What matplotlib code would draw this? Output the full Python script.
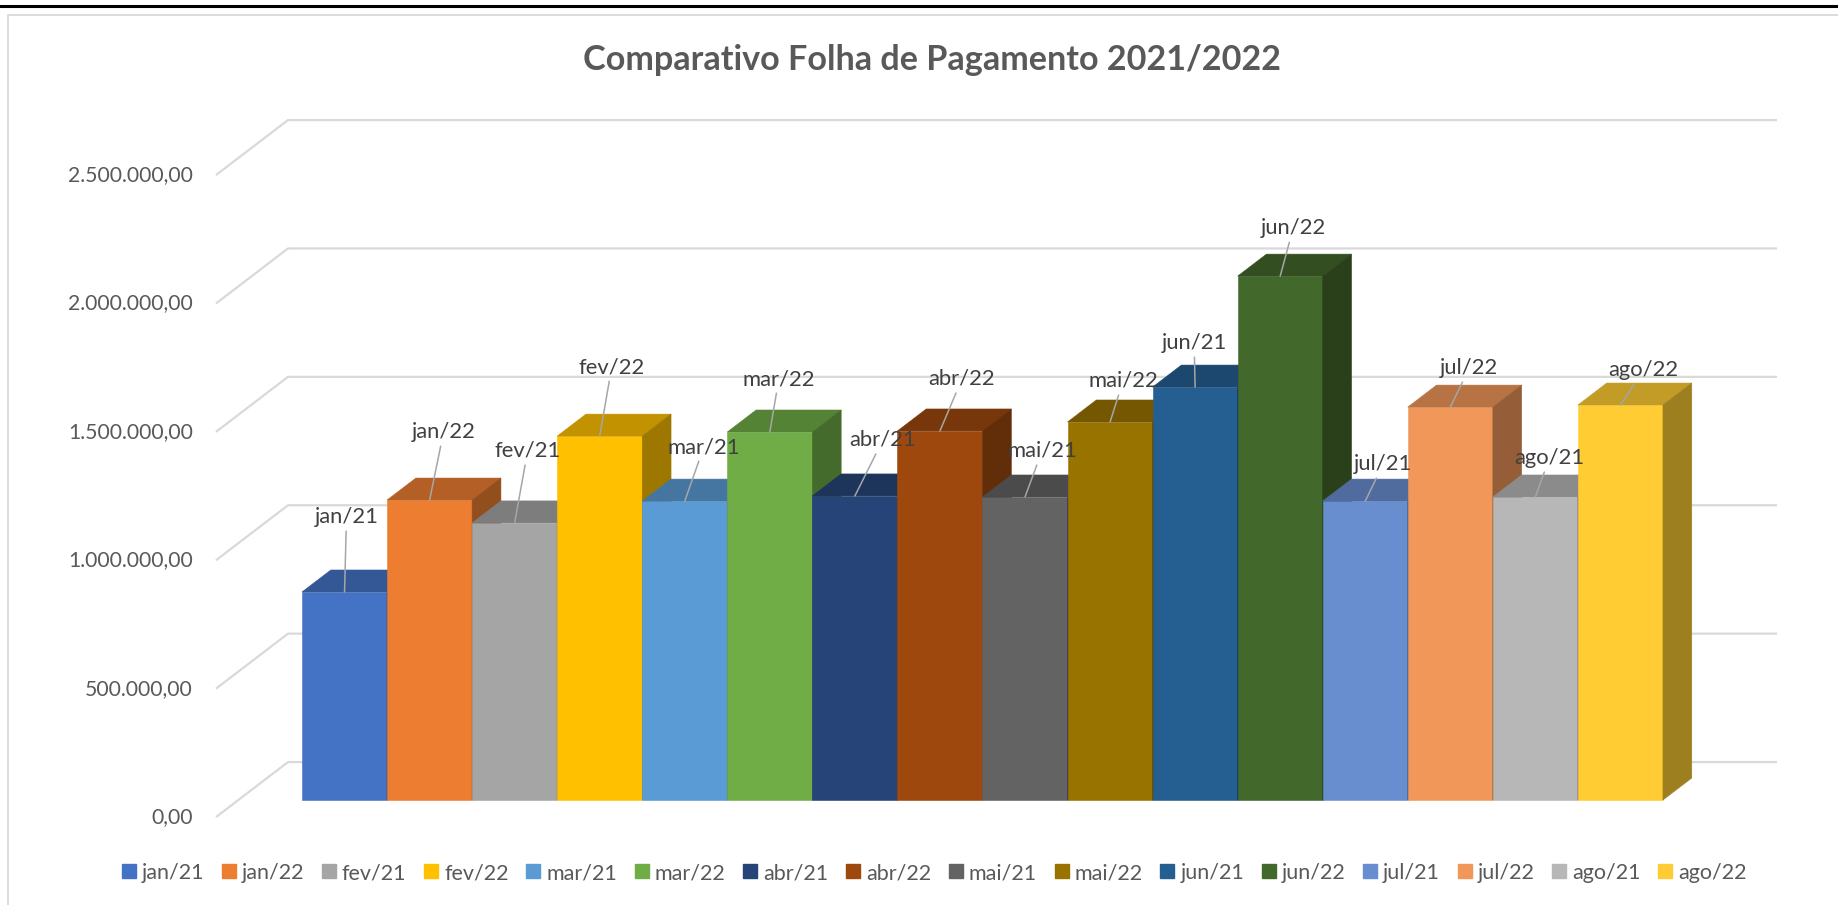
import numpy as np
import matplotlib.pyplot as plt
import matplotlib.colors as mcolors
from matplotlib.patches import Polygon
from matplotlib.lines import Line2D

plt.rcParams['font.family'] = ['Lato', 'DejaVu Sans']

# data
labels = ['jan/21', 'jan/22', 'fev/21', 'fev/22', 'mar/21', 'mar/22', 'abr/21', 'abr/22',
          'mai/21', 'mai/22', 'jun/21', 'jun/22', 'jul/21', 'jul/22', 'ago/21', 'ago/22']
values = [810000, 1168000, 1079000, 1417000, 1164000, 1433000, 1184000, 1437000,
          1180000, 1472000, 1608000, 2040000, 1164000, 1530000, 1180000, 1538000]
colors = ['#4472C4', '#ED7D31', '#A5A5A5', '#FFC000', '#5B9BD5', '#70AD47', '#264478', '#9E480E',
          '#636363', '#997300', '#255E91', '#43682B', '#698ED0', '#F1975A', '#B7B7B7', '#FFCD33']
yticks = [0, 500000, 1000000, 1500000, 2000000, 2500000]
ytick_labels = ['0,00', '500.000,00', '1.000.000,00', '1.500.000,00', '2.000.000,00', '2.500.000,00']

# where excel put the data labels (pixel offset from the top of each column)
lab_dx = [2, 14, 13, 12, 19, 9, 28, 22, 17, 13, -1, 13, 18, 19, 14, 23]
lab_dy = [75, 68, 72, 69, 54, 53, 56, 52, 46, 41, 44, 48, 37, 39, 39, 35]

W, H = 1838, 905
px_x = 85.06          # pixels per column
px_y = 256.8e-6       # pixels per unit of value
x0, y0 = 302, 800     # pixel position of first column foot

depth_x = 72 / px_x   # floor depth in data units
depth_y = 55 / px_y
f0 = 0.31             # column front, as fraction of depth
bar_d = 0.40          # column depth
wall_x = (216 - x0) / px_x
grid_right = (1777 - x0) / px_x
tick_x = (193 - x0) / px_x

fig = plt.figure(figsize=(W / 100, H / 100), dpi=100)
ax = fig.add_axes([0, 0, 1, 1])
ax.set_xlim(-x0 / px_x, (W - x0) / px_x)
ax.set_ylim(-(H - y0) / px_y, y0 / px_y)
ax.axis('off')


def shade(c, k):
    r, g, b = mcolors.to_rgb(c)
    return (r * k, g * k, b * k)


# back wall gridlines + floor diagonals
grid_c = '#d9d9d9'
for v, t in zip(yticks, ytick_labels):
    yf = v - f0 * depth_y
    ax.plot([wall_x, wall_x + depth_x, grid_right], [yf, yf + depth_y, yf + depth_y],
            color=grid_c, lw=1.6, zorder=1, solid_capstyle='butt')
    ax.text(tick_x, yf, t, ha='right', va='center', fontsize=15.2, color='#595959')

# 3d columns
bx, by = bar_d * depth_x, bar_d * depth_y
for i, (v, c) in enumerate(zip(values, colors)):
    z = 10 + 3 * i
    ax.bar(i, v, width=1, align='edge', color=c, edgecolor=c, lw=0.4, zorder=z)
    ax.add_patch(Polygon([(i, v), (i + 1, v), (i + 1 + bx, v + by), (i + bx, v + by)],
                         closed=True, fc=shade(c, 0.76), ec=shade(c, 0.76), lw=0.4, zorder=z + 1))
    ax.add_patch(Polygon([(i + 1, 0), (i + 1, v), (i + 1 + bx, v + by), (i + 1 + bx, by)],
                         closed=True, fc=shade(c, 0.62), ec=shade(c, 0.62), lw=0.4, zorder=z + 2))

# data labels with leader lines
for i, (lab, v) in enumerate(zip(labels, values)):
    ax.annotate(lab, xy=(i + 0.5, v), xytext=(lab_dx[i], lab_dy[i]), textcoords='offset pixels',
                ha='center', va='center', fontsize=15.8, color='#404040', zorder=200,
                arrowprops=dict(arrowstyle='-', color='#a6a6a6', lw=1.1, shrinkA=1, shrinkB=0))

fig.text(932 / W, 1 - 60 / H, 'Comparativo Folha de Pagamento 2021/2022', ha='center', va='center',
         fontsize=24.6, fontweight='bold', color='#595959')

handles = [Line2D([], [], marker='s', ls='', ms=9.5, color=c) for c in colors]
fig.legend(handles, labels, loc='center', bbox_to_anchor=(934 / W, 1 - 873 / H), ncol=16,
           frameon=False, fontsize=15.5, handlelength=0.7, handletextpad=0.25,
           columnspacing=0.8, labelcolor='#595959')

# frame of the excel chart and black line on top
fig.add_artist(Line2D([0, 1], [1 - 6.5 / H, 1 - 6.5 / H], color='black', lw=2.2, transform=fig.transFigure))
fig.add_artist(Line2D([7.5 / W, 7.5 / W, 1], [0, 1 - 15 / H, 1 - 15 / H], color='#d9d9d9', lw=1.3,
                      transform=fig.transFigure))

fig.savefig('out.png', dpi=100)
